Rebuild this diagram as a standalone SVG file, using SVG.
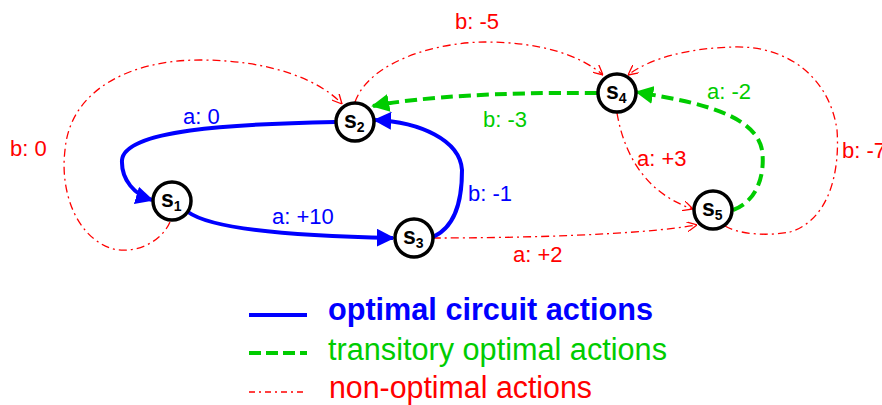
<svg xmlns="http://www.w3.org/2000/svg" width="882" height="405" viewBox="0 0 882 405">
<style>
  .node circle { fill: #fff; stroke: #000; stroke-width: 3.5; }
  .node text { font-family: "Liberation Sans", Arial, sans-serif; font-weight: bold; font-size: 23px; fill: #000; }
  .node .sub { font-size: 14px; font-weight: bold; }
  .opt { fill: none; stroke: #0000ff; stroke-width: 4; }
  .tr { fill: none; stroke: #00cc00; stroke-width: 4; stroke-dasharray: 12 6; }
  .no { fill: none; stroke: #ff0000; stroke-width: 1.3; stroke-dasharray: 8 4 2 4; }
  .lbl { font-family: "Liberation Sans", Arial, sans-serif; font-size: 22px; }
  .blue { fill: #0000ff; }
  .green { fill: #00cc00; }
  .red { fill: #ff0000; }
  .leg { font-family: "Liberation Sans", Arial, sans-serif; font-size: 31px; }
</style>
<defs>
  <marker id="ab" viewBox="0 0 10 10" refX="9" refY="5" markerWidth="4.5" markerHeight="4.5" orient="auto" markerUnits="strokeWidth">
    <path d="M0,0 L10,5 L0,10 z" fill="#0000ff"/>
  </marker>
  <marker id="ag" viewBox="0 0 10 10" refX="9" refY="5" markerWidth="4.5" markerHeight="4.5" orient="auto" markerUnits="strokeWidth">
    <path d="M0,0 L10,5 L0,10 z" fill="#00cc00"/>
  </marker>
  <marker id="ar" viewBox="0 0 10 10" refX="10" refY="5" markerWidth="10" markerHeight="10" orient="auto" markerUnits="userSpaceOnUse">
    <path d="M0,0 L10,5 L0,10" fill="none" stroke="#ff0000" stroke-width="1.3"/>
  </marker>
</defs>

<g id="connectors">
  <!-- non-optimal -->
  <path class="no" d="M170,222 C160,245 130,255 110,248 C75,235 60,190 65,150 C70,90 130,60 200,60 C270,60 320,80 342,104" marker-end="url(#ar)"/>
  <path class="no" d="M355,102 C370,60 440,42 485,42 C540,42 580,55 603,75" marker-end="url(#ar)"/>
  <path class="no" d="M725,226 C740,235 770,236 790,232 C830,220 840,170 837,130 C830,80 790,45 733,47 C690,48 650,58 628,75" marker-end="url(#ar)"/>
  <path class="no" d="M617,113 C625,160 650,195 693,209" marker-end="url(#ar)"/>
  <path class="no" d="M433,238 C520,238 640,235 697,225" marker-end="url(#ar)"/>
  <!-- optimal -->
  <path class="opt" d="M335,122 C230,124 125,130 122,160 C121,180 135,195 152,200" marker-end="url(#ab)"/>
  <path class="opt" d="M188,212 C210,228 280,236 393,238" marker-end="url(#ab)"/>
  <path class="opt" d="M433,237 C460,225 462,190 462,170 C460,140 420,122 375,120" marker-end="url(#ab)"/>
  <!-- transitory -->
  <path class="tr" d="M597,93 C500,92 420,97 373,106" marker-end="url(#ag)"/>
  <path class="tr" d="M733,210 C760,200 765,170 762,150 C755,110 680,100 637,92" marker-end="url(#ag)"/>
</g>

<g id="labels">
  <text class="lbl blue" x="183" y="124">a: 0</text>
  <text class="lbl red" x="10" y="156">b: 0</text>
  <text class="lbl blue" x="272" y="224">a: +10</text>
  <text class="lbl blue" x="468" y="201">b: -1</text>
  <text class="lbl red" x="513" y="262">a: +2</text>
  <text class="lbl red" x="455" y="29">b: -5</text>
  <text class="lbl green" x="483" y="127">b: -3</text>
  <text class="lbl green" x="707" y="99">a: -2</text>
  <text class="lbl red" x="637" y="166">a: +3</text>
  <text class="lbl red" x="842" y="158">b: -7</text>
</g>

<g id="s1" class="node"><circle cx="172" cy="201" r="19"/><text x="161" y="207">s<tspan class="sub" dy="4">1</tspan></text></g>
<g id="s2" class="node"><circle cx="355" cy="122" r="19"/><text x="344" y="128">s<tspan class="sub" dy="4">2</tspan></text></g>
<g id="s3" class="node"><circle cx="414" cy="238" r="19"/><text x="403" y="244">s<tspan class="sub" dy="4">3</tspan></text></g>
<g id="s4" class="node"><circle cx="617" cy="93" r="19"/><text x="606" y="99">s<tspan class="sub" dy="4">4</tspan></text></g>
<g id="s5" class="node"><circle cx="713" cy="210" r="19"/><text x="702" y="216">s<tspan class="sub" dy="4">5</tspan></text></g>

<g id="legend">
  <line x1="249" y1="315" x2="307" y2="315" stroke="#0000ff" stroke-width="4"/>
  <line x1="249" y1="353" x2="307" y2="353" stroke="#00cc00" stroke-width="4" stroke-dasharray="12 5"/>
  <line x1="249" y1="392" x2="307" y2="392" stroke="#ff0000" stroke-width="1.3" stroke-dasharray="6 4 2 4"/>
  <text class="leg blue" x="328" y="320" font-size="28" font-weight="bold" textLength="325" lengthAdjust="spacingAndGlyphs">optimal circuit actions</text>
  <text class="leg green" x="328" y="360" textLength="339" lengthAdjust="spacingAndGlyphs">transitory optimal actions</text>
  <text class="leg red" x="329" y="398" textLength="263" lengthAdjust="spacingAndGlyphs">non-optimal actions</text>
</g>
</svg>
